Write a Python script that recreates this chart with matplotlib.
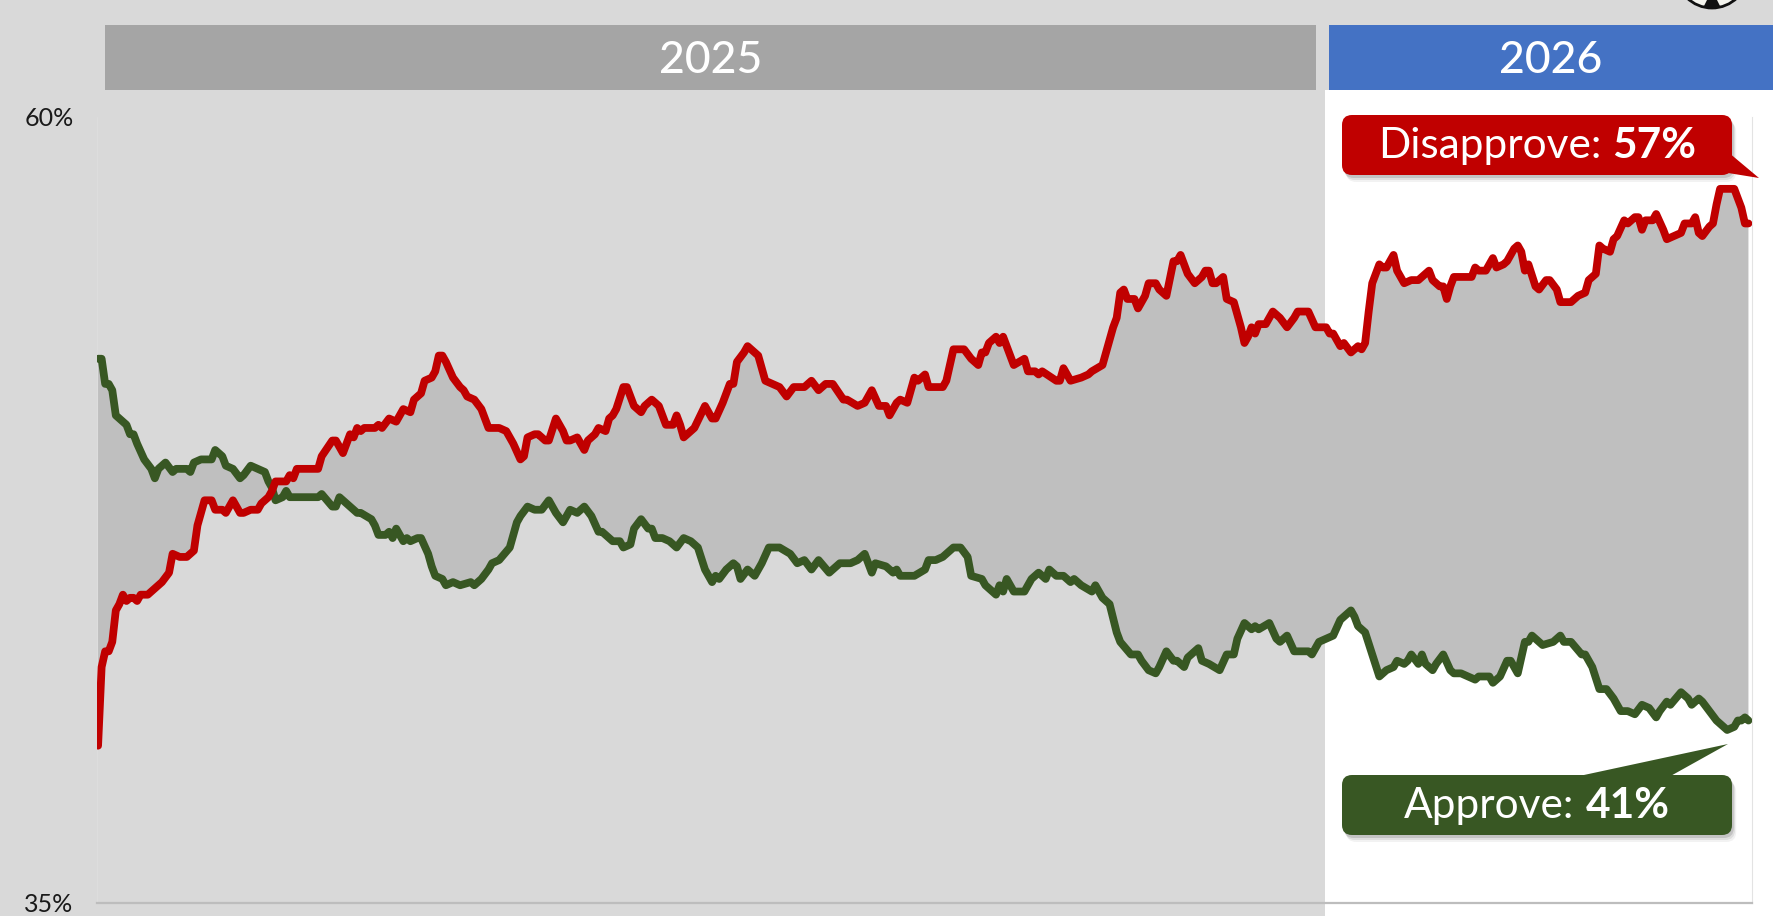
import matplotlib
matplotlib.use("Agg")
import matplotlib.pyplot as plt
from matplotlib.patches import Rectangle, FancyBboxPatch, Polygon, Circle

# ---------------- data (days since 2025-01-20, percent) ----------------
approve_days = [0, 1, 2, 3, 4, 5, 7, 8, 9, 10, 11, 13, 15, 16, 17, 19, 21, 22, 25, 26,
                27, 29, 30, 32, 33, 35, 36, 38, 40, 41, 43, 45, 47, 48, 49, 50, 52, 53, 54, 56,
                62, 63, 66, 67, 68, 70, 73, 74, 77, 78, 79, 81, 82, 83, 84, 86, 87, 88, 90, 91,
                93, 94, 95, 97, 98, 100, 102, 105, 106, 108, 110, 111, 113, 116, 118, 119, 121, 123, 125, 127,
                129, 131, 133, 135, 137, 139, 141, 142, 145, 147, 148, 150, 151, 153, 155, 156, 157, 159, 161, 163,
                165, 167, 169, 171, 173, 174, 175, 177, 179, 180, 181, 183, 185, 187, 189, 192, 195, 197, 199, 201,
                203, 206, 209, 212, 214, 216, 218, 219, 222, 224, 225, 226, 230, 233, 234, 236, 238, 241, 243, 245,
                246, 249, 250, 253, 254, 255, 256, 258, 261, 263, 265, 267, 268, 270, 272, 274, 275, 277, 280, 281,
                283, 285, 287, 288, 291, 293, 294, 296, 298, 299, 301, 303, 304, 306, 307, 310, 311, 313, 316, 318,
                320, 321, 323, 325, 326, 327, 330, 332, 333, 335, 337, 339, 341, 342, 344, 346, 348, 350, 353, 354,
                355, 357, 359, 361, 363, 365, 366, 368, 369, 370, 372, 373, 374, 376, 377, 379, 381, 382, 384, 386,
                388, 389, 392, 393, 395, 397, 398, 400, 402, 403, 404, 407, 410, 412, 413, 415, 418, 419, 421, 423,
                425, 427, 429, 431, 433, 435, 437, 439, 440, 442, 443, 446, 448, 449, 451, 452, 454, 456, 457, 459,
                461, 462, 463, 464, 465]
approve_pct = [52.3, 52.3, 51.5, 51.5, 51.3, 50.5, 50.3, 50.2, 49.9, 49.9, 49.6, 49.1, 48.8, 48.5, 48.8, 49.0, 48.7, 48.8, 48.8, 48.7,
               49.0, 49.1, 49.1, 49.1, 49.4, 49.2, 48.9, 48.8, 48.5, 48.6, 48.9, 48.8, 48.7, 48.4, 48.2, 47.8, 47.9, 48.1, 47.9, 47.9,
               47.9, 48.0, 47.6, 47.6, 47.9, 47.7, 47.4, 47.4, 47.2, 47.0, 46.7, 46.7, 46.8, 46.6, 46.9, 46.5, 46.6, 46.5, 46.6, 46.6,
               46.1, 45.7, 45.4, 45.3, 45.1, 45.2, 45.1, 45.2, 45.1, 45.3, 45.6, 45.8, 45.9, 46.3, 47.1, 47.3, 47.6, 47.5, 47.5, 47.8,
               47.4, 47.1, 47.5, 47.4, 47.6, 47.3, 46.8, 46.8, 46.5, 46.5, 46.3, 46.4, 46.9, 47.2, 46.9, 46.9, 46.6, 46.6, 46.5, 46.3,
               46.6, 46.5, 46.3, 45.6, 45.2, 45.4, 45.3, 45.6, 45.8, 45.7, 45.3, 45.6, 45.4, 45.8, 46.3, 46.3, 46.1, 45.8, 45.9, 45.6,
               45.9, 45.5, 45.8, 45.8, 45.9, 46.1, 45.5, 45.8, 45.7, 45.5, 45.6, 45.4, 45.4, 45.6, 45.9, 45.9, 46.0, 46.3, 46.3, 46.0,
               45.4, 45.3, 45.1, 44.8, 45.1, 44.9, 45.3, 44.9, 44.9, 45.3, 45.5, 45.3, 45.6, 45.4, 45.4, 45.2, 45.3, 45.1, 44.9, 45.1,
               44.7, 44.5, 43.6, 43.3, 42.9, 42.9, 42.7, 42.4, 42.3, 42.5, 43.0, 42.7, 42.7, 42.5, 42.8, 43.1, 42.7, 42.6, 42.4, 42.9,
               42.9, 43.4, 43.9, 43.7, 43.8, 43.7, 43.9, 43.4, 43.3, 43.5, 43.0, 43.0, 43.0, 42.9, 43.3, 43.4, 43.5, 44.0, 44.3, 44.1,
               43.8, 43.6, 42.9, 42.2, 42.4, 42.5, 42.7, 42.6, 42.7, 42.9, 42.6, 42.9, 42.6, 42.4, 42.6, 42.9, 42.4, 42.3, 42.3, 42.2,
               42.1, 42.2, 42.2, 42.0, 42.2, 42.7, 42.7, 42.3, 43.3, 43.3, 43.5, 43.2, 43.3, 43.5, 43.3, 43.3, 42.9, 42.9, 42.5, 41.8,
               41.8, 41.5, 41.1, 41.1, 41.0, 41.3, 41.2, 40.9, 41.1, 41.4, 41.3, 41.7, 41.5, 41.3, 41.5, 41.4, 41.1, 40.8, 40.7, 40.5,
               40.6, 40.8, 40.8, 40.9, 40.8]

disapprove_days = [0, 1, 2, 3, 4, 5, 6, 7, 8, 9, 10, 11, 12, 14, 16, 18, 20, 21, 23, 25,
                   27, 28, 30, 32, 33, 35, 36, 38, 40, 41, 43, 45, 46, 48, 49, 50, 53, 54, 55, 56,
                   62, 63, 66, 67, 69, 71, 72, 73, 74, 75, 78, 79, 80, 82, 84, 86, 88, 89, 91, 92,
                   94, 95, 96, 97, 98, 100, 102, 103, 104, 106, 108, 110, 112, 113, 115, 117, 119, 120, 121, 123,
                   124, 126, 127, 129, 131, 132, 133, 135, 137, 138, 140, 141, 143, 144, 145, 146, 148, 149, 151, 153,
                   154, 156, 158, 160, 162, 163, 164, 165, 167, 168, 171, 173, 174, 176, 178, 179, 180, 182, 183, 185,
                   186, 187, 188, 190, 192, 194, 196, 199, 201, 203, 205, 207, 210, 211, 214, 216, 218, 220, 222, 223,
                   225, 226, 228, 230, 231, 233, 234, 238, 239, 241, 244, 246, 248, 249, 250, 251, 253, 254, 255, 256,
                   258, 261, 262, 264, 265, 266, 270, 271, 272, 274, 277, 279, 280, 283, 284, 286, 287, 288, 289, 290,
                   292, 293, 295, 296, 298, 299, 301, 303, 304, 305, 307, 309, 311, 312, 313, 314, 315, 317, 318, 320,
                   322, 323, 324, 325, 326, 327, 329, 331, 333, 335, 337, 338, 341, 343, 346, 347, 348, 350, 351, 353,
                   355, 356, 357, 358, 359, 361, 362, 363, 365, 366, 368, 370, 372, 374, 375, 376, 378, 379, 380, 381,
                   382, 384, 387, 388, 389, 391, 393, 394, 396, 397, 399, 400, 401, 402, 403, 405, 406, 408, 409, 411,
                   412, 414, 415, 416, 417, 419, 420, 422, 423, 424, 426, 427, 428, 430, 431, 433, 434, 435, 436, 438,
                   439, 441, 442, 444, 446, 447, 449, 450, 451, 452, 454, 455, 456, 457, 460, 461, 463, 464, 465]
disapprove_pct = [40.0, 42.5, 43.0, 43.0, 43.3, 44.3, 44.5, 44.8, 44.6, 44.7, 44.7, 44.6, 44.8, 44.8, 45.0, 45.2, 45.5, 46.1, 46.0, 46.0,
                  46.2, 47.0, 47.8, 47.8, 47.5, 47.5, 47.4, 47.8, 47.4, 47.4, 47.5, 47.5, 47.7, 47.9, 48.1, 48.4, 48.4, 48.6, 48.5, 48.8,
                  48.8, 49.2, 49.7, 49.7, 49.3, 49.9, 49.8, 50.1, 50.0, 50.1, 50.1, 50.2, 50.1, 50.4, 50.3, 50.7, 50.6, 51.0, 51.2, 51.6,
                  51.7, 51.9, 52.4, 52.4, 52.2, 51.7, 51.4, 51.3, 51.1, 51.0, 50.7, 50.1, 50.1, 50.1, 50.0, 49.6, 49.1, 49.2, 49.8, 49.9,
                  49.9, 49.7, 49.7, 50.4, 50.0, 49.7, 49.7, 49.8, 49.4, 49.7, 49.9, 50.1, 50.0, 50.4, 50.5, 50.7, 51.4, 51.4, 50.8, 50.6,
                  50.8, 51.0, 50.8, 50.2, 50.2, 50.5, 50.2, 49.8, 50.0, 50.1, 50.8, 50.4, 50.4, 50.9, 51.5, 51.5, 52.2, 52.5, 52.7, 52.5,
                  52.4, 52.0, 51.6, 51.5, 51.4, 51.1, 51.4, 51.4, 51.6, 51.3, 51.5, 51.5, 51.0, 51.0, 50.8, 50.9, 51.3, 50.8, 50.8, 50.5,
                  50.9, 51.0, 50.9, 51.7, 51.6, 51.8, 51.4, 51.4, 51.6, 52.6, 52.6, 52.3, 52.1, 52.5, 52.5, 52.8, 53.0, 52.8, 53.0, 52.7,
                  52.1, 52.3, 51.9, 51.9, 51.8, 51.9, 51.6, 51.6, 52.0, 51.6, 51.7, 51.8, 51.9, 52.1, 52.5, 53.3, 53.6, 54.4, 54.5, 54.2,
                  54.2, 53.9, 54.3, 54.7, 54.7, 54.5, 54.3, 55.4, 55.4, 55.6, 55.0, 54.7, 54.9, 55.1, 55.1, 54.7, 54.7, 54.9, 54.2, 54.1,
                  53.3, 52.8, 53.0, 53.3, 53.1, 53.4, 53.4, 53.8, 53.6, 53.3, 53.6, 53.8, 53.8, 53.3, 53.3, 53.1, 53.1, 52.7, 52.8, 52.5,
                  52.7, 52.6, 52.8, 53.8, 54.7, 55.3, 55.2, 55.2, 55.6, 55.1, 54.7, 54.8, 54.8, 55.0, 55.1, 54.8, 54.6, 54.6, 54.2, 54.6,
                  54.9, 54.9, 54.9, 55.2, 55.1, 55.1, 55.5, 55.2, 55.3, 55.4, 55.8, 55.9, 55.7, 55.1, 55.3, 54.6, 54.5, 54.8, 54.8, 54.5,
                  54.1, 54.1, 54.1, 54.2, 54.3, 54.4, 54.8, 55.0, 55.9, 55.8, 55.7, 56.1, 56.2, 56.7, 56.6, 56.8, 56.8, 56.4, 56.7, 56.7,
                  56.9, 56.4, 56.1, 56.2, 56.3, 56.6, 56.6, 56.8, 56.3, 56.2, 56.5, 56.6, 57.2, 57.7, 57.7, 57.7, 57.1, 56.6, 56.6]

year_labels = ["2025", "2026"]
y_ticks = [35, 60]
y_tick_labels = ["35%", "60%"]
series_names = ["Disapprove", "Approve"]

# ---------------- style ----------------
W, H = 1773, 916
BG = "#d9d9d9"
FILL = "#bfbfbf"
RED = "#c00000"
GREEN = "#385723"
FONT = "Lato"

fig = plt.figure(figsize=(W / 100, H / 100), dpi=100)
fig.patch.set_facecolor(BG)

# background layer (pixel coordinates, y downwards)
bg = fig.add_axes([0, 0, 1, 1], zorder=0)
bg.set_xlim(0, W)
bg.set_ylim(H, 0)
bg.axis("off")
bg.add_patch(Rectangle((1325, 90), W - 1325, H - 90, facecolor="white", edgecolor="none"))
bg.add_patch(Rectangle((105, 25), 1211, 65, facecolor="#a5a5a5", edgecolor="none"))
bg.add_patch(Rectangle((1329, 25), W - 1329, 65, facecolor="#4472c4", edgecolor="none"))
bg.text((105 + 1316) / 2, 73, year_labels[0], ha="center", va="baseline",
        color="white", fontsize=32, family=FONT, fontweight="medium")
bg.text((1329 + W) / 2, 73, year_labels[1], ha="center", va="baseline",
        color="white", fontsize=32, family=FONT, fontweight="medium")

# main chart
ax = fig.add_axes([97 / W, 13 / H, 1655 / W, 786.5 / H], zorder=1)
ax.patch.set_alpha(0)
ax.set_xlim(-0.3, 466)
ax.set_ylim(35, 60)

poly_x = list(disapprove_days) + list(approve_days[::-1])
poly_y = list(disapprove_pct) + list(approve_pct[::-1])
ax.fill(poly_x, poly_y, color=FILL, lw=0, zorder=1)
ax.plot(approve_days, approve_pct, color=GREEN, lw=5.6, solid_joinstyle="round",
        solid_capstyle="round", zorder=3)
ax.plot(disapprove_days, disapprove_pct, color=RED, lw=5.6, solid_joinstyle="round",
        solid_capstyle="round", zorder=4)

ax.set_xticks([])
ax.set_yticks(y_ticks)
ax.set_yticklabels(y_tick_labels, fontsize=18, family=FONT, color="#1a1a1a")
ax.tick_params(axis="y", length=0, pad=17)
ax.spines["top"].set_visible(False)
ax.spines["bottom"].set_color("#bdbdbd")
ax.spines["bottom"].set_linewidth(1.6)
ax.spines["left"].set_color("#dedede")
ax.spines["left"].set_linewidth(0.6)
ax.spines["right"].set_color("#e3e3e3")
ax.spines["right"].set_linewidth(0.8)

# overlay layer for callouts
ov = fig.add_axes([0, 0, 1, 1], zorder=2)
ov.set_xlim(0, W)
ov.set_ylim(H, 0)
ov.axis("off")
ov.patch.set_alpha(0)

renderer = fig.canvas.get_renderer()


def callout(x0, y0, x1, y1, color, tail, name, value, baseline):
    w, h = x1 - x0, y1 - y0
    for off, a in [(7, 0.05), (5, 0.08), (3, 0.12)]:
        ov.add_patch(FancyBboxPatch((x0 + off * 0.6, y0 + off), w, h,
                                    boxstyle="round,pad=0,rounding_size=10",
                                    facecolor="black", alpha=a, edgecolor="none"))
    ov.add_patch(Polygon(tail, closed=True, facecolor=color, edgecolor="none"))
    ov.add_patch(FancyBboxPatch((x0, y0), w, h, boxstyle="round,pad=0,rounding_size=10",
                                facecolor=color, edgecolor="none"))
    t1 = ov.text(0, baseline, name + ":", ha="left", va="baseline", color="white",
                 fontsize=30.5, family=FONT)
    t2 = ov.text(0, baseline, f"{round(value)}%", ha="left", va="baseline", color="white",
                 fontsize=30.5, family=FONT, fontweight="bold")
    w1 = t1.get_window_extent(renderer).width
    w2 = t2.get_window_extent(renderer).width
    gap = 11
    start = (x0 + x1) / 2 - (w1 + gap + w2) / 2
    t1.set_x(start)
    t2.set_x(start + w1 + gap)


callout(1342, 115, 1732, 175, RED, [(1722, 147), (1759, 178), (1722, 172)],
        series_names[0], disapprove_pct[-1], 158)
callout(1342, 775, 1732, 835, GREEN, [(1570, 778), (1667, 778), (1728, 744)],
        series_names[1], approve_pct[-1], 818)

# partial logo at the top right edge
ov.add_patch(Circle((1712, -28), 36, facecolor="#f4f4ee", edgecolor="#111111", lw=2))
ov.add_patch(Polygon([(1703, 8), (1721, 8), (1717, 0), (1707, 0)], closed=True,
                     facecolor="#111111", edgecolor="none"))

fig.savefig("out.png", dpi=100, facecolor=BG)
